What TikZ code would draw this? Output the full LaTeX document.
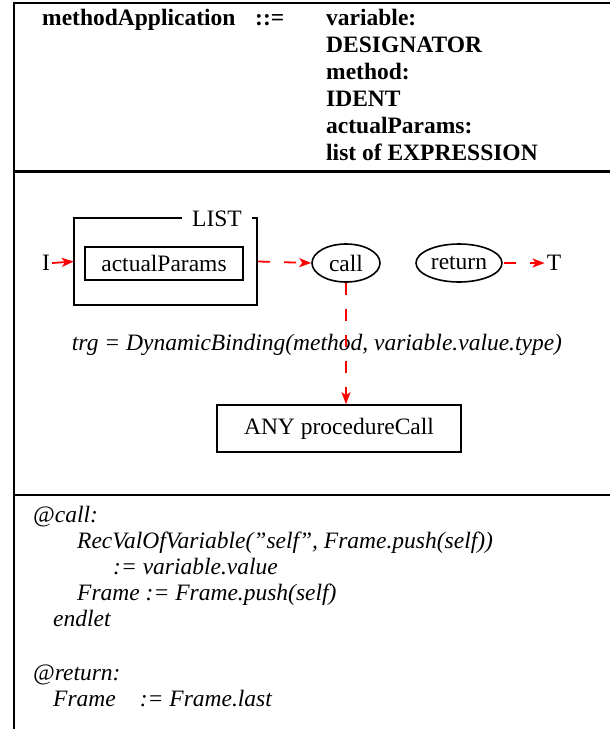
\documentclass[tikz,border=0pt]{standalone}
\usepackage{fontspec}
\setmainfont{Liberation Serif}
\usetikzlibrary{arrows.meta,shapes.geometric,calc}
\begin{document}
\begin{tikzpicture}[x=1pt,y=-1pt,
  every node/.style={font=\fontsize{23.5}{27}\selectfont, inner sep=0pt},
  frameline/.style={line width=2pt, line cap=rect},
  bx/.style={draw, line width=1.6pt, rectangle},
  ell/.style={draw, line width=1.6pt, ellipse},
  flow/.style={draw=red, line width=1.8pt, -{Stealth[length=12pt,width=9pt,inset=3pt]}},
  dflow/.style={flow, dash pattern=on 12pt off 14pt},
  code/.style={anchor=base west, font=\fontsize{23.5}{27}\selectfont\itshape},
  hd/.style={anchor=base west, font=\fontsize{23.5}{27}\selectfont\bfseries}]
\useasboundingbox (0,0) rectangle (610,729);
% frame
\draw[frameline] (14,729) -- (14,3) -- (609,3);
\draw[line width=3pt] (14,171) -- (610,171);
\draw[line width=2pt] (14,495) -- (610,495);
% header
\node[hd] (h1) at (42,25) {methodApplication};
\node[hd] (h2) at (255,25) {::=};
\node[hd] (r1) at (326,25) {variable:};
\node[hd] (r2) at (326,52) {DESIGNATOR};
\node[hd] (r3) at (326,79) {method:};
\node[hd] (r4) at (326,106) {IDENT};
\node[hd] (r5) at (326,133) {actualParams:};
\node[hd] (r6) at (326,160) {list of EXPRESSION};
% diagram
\node[minimum width=183pt, minimum height=87pt] (list) at (165.5,261.5) {};
\node[anchor=base] (listlbl) at (217,226) {LIST};
\draw[line width=1.6pt] ($(listlbl.west |- list.north)+(-10,0)$) -- (list.north west) -- (list.south west) -- (list.south east) -- (list.north east) -- ++(-5,0);
\node[bx, minimum width=158pt, minimum height=33pt] (ap) at (164,263.5) {actualParams};
\node (I) at (46,263) {I};
\node[ell, minimum width=68pt, minimum height=38pt] (call) at (346,263) {call};
\node[ell, minimum width=86pt, minimum height=38pt] (ret) at (459,263) {return};
\node (T) at (554,263) {T};
\node[bx, minimum width=244pt, minimum height=47pt] (proc) at (339,428.5) {ANY procedureCall};
\node[font=\fontsize{23.5}{27}\selectfont\itshape] (trg) at (317,345) {trg = DynamicBinding(method, variable.value.type)};
\draw[flow] ($(I.east)+(2,0)$) -- (list.west);
\draw[dflow] ($(list.east)+(1,0)$) -- (call.west);
\draw[dflow] (call.south) -- (call.south |- proc.north);
\draw[dflow] ($(ret.east)+(1,0)$) -- ($(T.west)+(-2,0)$);
% code
\node[code] (c1) at (33,522) {@call:};
\node[code] (c2) at (77,548) {RecValOfVariable(”self”, Frame.push(self))};
\node[code] (c3) at (113,574) {:= variable.value};
\node[code] (c4) at (77,600) {Frame := Frame.push(self)};
\node[code] (c5) at (53,626) {endlet};
\node[code] (c6) at (33,680) {@return:};
\node[code] (c7) at (53,706) {Frame\hspace{24pt}:= Frame.last};
\end{tikzpicture}
\end{document}
